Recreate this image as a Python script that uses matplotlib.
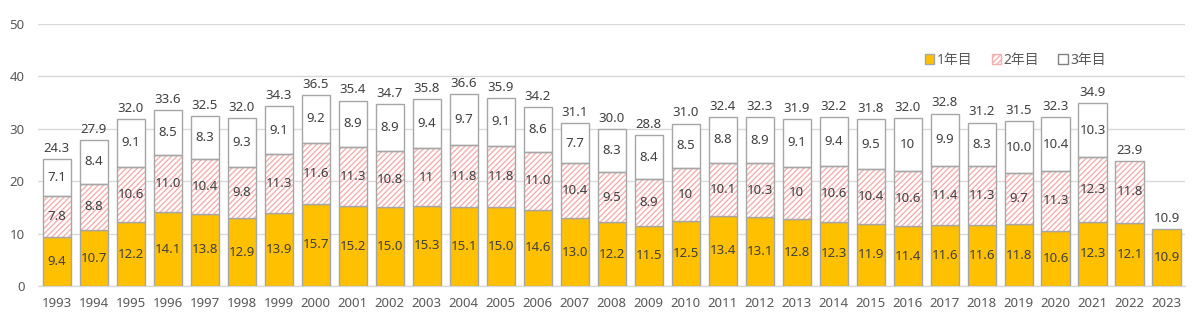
import numpy as np
import matplotlib
matplotlib.use("Agg")
import matplotlib.pyplot as plt
from matplotlib.patches import Patch

plt.rcParams['font.family'] = ['Noto Sans', 'Noto Sans CJK JP', 'DejaVu Sans']
plt.rcParams['hatch.linewidth'] = 1.0

# --- données ---
years = [str(y) for y in range(1993, 2024)]
y1 = [9.4, 10.7, 12.2, 14.1, 13.8, 12.9, 13.9, 15.7, 15.2, 15.0, 15.3, 15.1, 15.0, 14.6,
      13.0, 12.2, 11.5, 12.5, 13.4, 13.1, 12.8, 12.3, 11.9, 11.4, 11.6, 11.6, 11.8, 10.6,
      12.3, 12.1, 10.9]
y2 = [7.8, 8.8, 10.6, 11.0, 10.4, 9.8, 11.3, 11.6, 11.3, 10.8, 11, 11.8, 11.8, 11.0,
      10.4, 9.5, 8.9, 10, 10.1, 10.3, 10, 10.6, 10.4, 10.6, 11.4, 11.3, 9.7, 11.3,
      12.3, 11.8, 0]
y3 = [7.1, 8.4, 9.1, 8.5, 8.3, 9.3, 9.1, 9.2, 8.9, 8.9, 9.4, 9.7, 9.1, 8.6,
      7.7, 8.3, 8.4, 8.5, 8.8, 8.9, 9.1, 9.4, 9.5, 10, 9.9, 8.3, 10.0, 10.4,
      10.3, 0, 0]
# étiquettes telles qu'affichées
lab2 = ["7.8", "8.8", "10.6", "11.0", "10.4", "9.8", "11.3", "11.6", "11.3", "10.8", "11",
        "11.8", "11.8", "11.0", "10.4", "9.5", "8.9", "10", "10.1", "10.3", "10", "10.6",
        "10.4", "10.6", "11.4", "11.3", "9.7", "11.3", "12.3", "11.8", ""]
lab3 = ["7.1", "8.4", "9.1", "8.5", "8.3", "9.3", "9.1", "9.2", "8.9", "8.9", "9.4", "9.7",
        "9.1", "8.6", "7.7", "8.3", "8.4", "8.5", "8.8", "8.9", "9.1", "9.4", "9.5", "10",
        "9.9", "8.3", "10.0", "10.4", "10.3", "", ""]
totals = [24.3, 27.9, 32.0, 33.6, 32.5, 32.0, 34.3, 36.5, 35.4, 34.7, 35.8, 36.6, 35.9, 34.2,
          31.1, 30.0, 28.8, 31.0, 32.4, 32.3, 31.9, 32.2, 31.8, 32.0, 32.8, 31.2, 31.5, 32.3,
          34.9, 23.9, 10.9]

x = np.arange(len(years))
y1 = np.array(y1)
y2 = np.array(y2)
y3 = np.array(y3)
w = 0.76
edge = '#A6A6A6'
txt = '#404040'
fs = 9.5

fig = plt.figure(figsize=(12, 3.24), dpi=100)
ax = fig.add_axes([0.032, 0.117, 0.9555, 0.809])

ax.bar(x, y1, w, color='#FFC000', edgecolor=edge, linewidth=1, zorder=3)
# 2年目 : hachures rouges, contour gris
ax.bar(x, y2, w, bottom=y1, color='white', edgecolor='#F5AFAF', hatch='//////',
       linewidth=0, zorder=3)
ax.bar(x[y2 > 0], y2[y2 > 0], w, bottom=y1[y2 > 0], fill=False, edgecolor=edge,
       linewidth=1, zorder=4)
ax.bar(x[y3 > 0], y3[y3 > 0], w, bottom=(y1 + y2)[y3 > 0], color='white',
       edgecolor=edge, linewidth=1, zorder=3)

for i in range(len(x)):
    ax.text(x[i], y1[i] / 2, f"{y1[i]:.1f}", ha='center', va='center',
            fontsize=fs, color=txt, zorder=5)
    if lab2[i]:
        ax.text(x[i], y1[i] + y2[i] / 2, lab2[i], ha='center', va='center',
                fontsize=fs, color=txt, zorder=5)
    if lab3[i]:
        ax.text(x[i], y1[i] + y2[i] + y3[i] / 2, lab3[i], ha='center', va='center',
                fontsize=fs, color=txt, zorder=5)
    ax.annotate(f"{totals[i]:.1f}", (x[i], y1[i] + y2[i] + y3[i]), xytext=(0, 3),
                textcoords='offset points', ha='center', va='bottom',
                fontsize=fs, color=txt)

ax.set_xlim(-0.5, len(x) - 0.5)
ax.set_ylim(0, 50)
ax.set_yticks(range(0, 51, 10))
ax.set_xticks(x)
ax.set_xticklabels(years)
ax.tick_params(axis='both', length=0, labelsize=fs, labelcolor='#595959')
ax.tick_params(axis='x', pad=8)
ax.tick_params(axis='y', pad=10)
ax.grid(axis='y', color='#D9D9D9', linewidth=1, zorder=0)
ax.set_axisbelow(True)
for s in ['top', 'right', 'left']:
    ax.spines[s].set_visible(False)
ax.spines['bottom'].set_color('#D9D9D9')
ax.spines['bottom'].set_linewidth(1)

handles = [Patch(facecolor='#FFC000', edgecolor=edge, label='1年目'),
           Patch(facecolor='white', edgecolor='#F5AFAF', hatch='//////', label='2年目'),
           Patch(facecolor='white', edgecolor='#808080', label='3年目')]
leg = ax.legend(handles=handles, loc='center right', bbox_to_anchor=(0.937, 0.862), ncol=3,
                frameon=False, fontsize=10, handlelength=0.7, handleheight=0.7,
                handletextpad=0.15, columnspacing=1.4, borderpad=0)
for t in leg.get_texts():
    t.set_color('#595959')

fig.savefig('out.png', dpi=100)
